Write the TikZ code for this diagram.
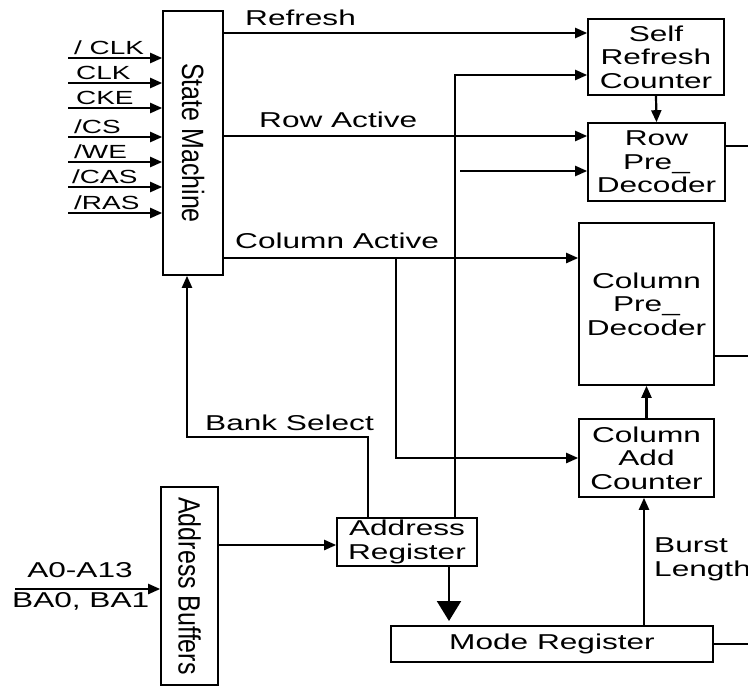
\documentclass[tikz,border=0pt]{standalone}
\usepackage{fontspec}
\setmainfont{Liberation Sans}
\newfontfamily\widefont[FakeStretch=1.47]{Liberation Sans}
\usetikzlibrary{arrows.meta}

\begin{document}
\begin{tikzpicture}[x=1pt,y=-1pt,
  box/.style={draw, line width=1.6pt, inner sep=0pt, align=center,
    font=\widefont\fontsize{21.5}{23.5}\selectfont},
  vbox/.style={draw, line width=1.6pt, inner sep=0pt,
    font=\fontsize{25}{26}\selectfont},
  wire/.style={line width=2.2pt},
  arr/.style={wire, -{Triangle[length=12pt,width=10pt]}},
  bigarr/.style={wire, -{Triangle[length=20pt,width=24pt]}},
  lbl/.style={font=\widefont\fontsize{21.5}{23.5}\selectfont, inner sep=0pt},
  pinlbl/.style={font=\widefont\fontsize{19}{20}\selectfont, inner sep=0pt, anchor=base west},
]
\useasboundingbox (0,0) rectangle (748,686);

% blocks
\node[vbox, minimum width=60pt, minimum height=264pt] (sm) at (193,143)
  {\scalebox{1.23}[1]{\rotatebox{-90}{State Machine}}};
\node[vbox, minimum width=57pt, minimum height=198pt] (ab) at (189.5,586)
  {\scalebox{1.23}[1]{\rotatebox{-90}{Address Buffers}}};
\node[box, minimum width=136pt, minimum height=76pt] (src) at (656,57)
  {Self\\Refresh\\Counter};
\node[box, minimum width=137pt, minimum height=78pt] (rpd) at (656.5,162)
  {Row\\Pre\_\\Decoder};
\node[box, minimum width=135pt, minimum height=162pt] (cpd) at (646.5,304)
  {Column\\Pre\_\\Decoder};
\node[box, minimum width=135pt, minimum height=78pt] (cac) at (646.5,458)
  {Column\\Add\\Counter};
\node[box, minimum width=140pt, minimum height=48pt] (areg) at (407,542)
  {Address\\Register};
\node[box, minimum width=322pt, minimum height=36pt] (mreg) at (552,644)
  {Mode Register};

% control inputs of the state machine
\coordinate (in1) at (68,58);
\coordinate (in2) at (68,83);
\coordinate (in3) at (68,108);
\coordinate (in4) at (68,137);
\coordinate (in5) at (68,162);
\coordinate (in6) at (68,187);
\coordinate (in7) at (68,213);
\draw[arr] (in1) -- (sm.west |- in1);
\draw[arr] (in2) -- (sm.west |- in2);
\draw[arr] (in3) -- (sm.west |- in3);
\draw[arr] (in4) -- (sm.west |- in4);
\draw[arr] (in5) -- (sm.west |- in5);
\draw[arr] (in6) -- (sm.west |- in6);
\draw[arr] (in7) -- (sm.west |- in7);
\node[pinlbl] (p1) at (74,54) {/ CLK};
\node[pinlbl] (p2) at (76,79) {CLK};
\node[pinlbl] (p3) at (76,104) {CKE};
\node[pinlbl] (p4) at (74,133) {/CS};
\node[pinlbl] (p5) at (74,158) {/WE};
\node[pinlbl] (p6) at (72,183) {/CAS};
\node[pinlbl] (p7) at (74,209) {/RAS};

% state machine outputs
\coordinate (rf) at (0,33);
\coordinate (ra) at (0,136);
\coordinate (ca) at (0,258);
\draw[arr] (sm.east |- rf) -- (src.west |- rf);
\draw[arr] (sm.east |- ra) -- (rpd.west |- ra);
\draw[arr] (sm.east |- ca) -- (cpd.west |- ca);
\node[lbl, anchor=base west] (lrf) at (245,25) {Refresh};
\node[lbl, anchor=base west] (lra) at (259,127) {Row Active};
\node[lbl, anchor=base west] (lca) at (235,248) {Column Active};

% column active branch to the column address counter
\coordinate (cbr) at (396,258);
\draw[arr] (cbr) |- (cac.west);

% address bus from the address register
\coordinate (bustop) at (455,75);
\coordinate (rowin) at (460,171);
\draw[arr] (areg.north -| bustop) -- (bustop) -- (src.west |- bustop);
\draw[arr] (rowin) -- (rpd.west |- rowin);

% bank select back to the state machine
\coordinate (bsx) at (368,0);
\coordinate (bs) at (187,437);
\draw[arr] (areg.north -| bsx) |- (bs) -- (bs |- sm.south);
\node[lbl, anchor=base west] (lbs) at (205,430) {Bank Select};

% address path
\coordinate (abo) at (0,545);
\draw[arr] (ab.east |- abo) -- (areg.west |- abo);
\coordinate (ain) at (15,589);
\draw[arr] (ain) -- (ab.west |- ain);
\node[lbl, anchor=base] (la) at (80,577) {A0-A13};
\node[lbl, anchor=base west] (lba) at (12,607) {BA0, BA1};

\coordinate (mx) at (449,621);
\draw[bigarr] (areg.south -| mx) -- (mx);

% counters and decoders
\draw[arr] (src.south) -- (rpd.north);
\draw[arr] (cac.north) -- (cpd.south);
\coordinate (blx) at (644,0);
\draw[arr] (mreg.north -| blx) -- (cac.south -| blx);
\node[lbl, anchor=north west, align=left] (lbl) at (654,538) {Burst\\Length};

% outputs leaving on the right
\coordinate (o1) at (748,146);
\coordinate (o2) at (748,356);
\coordinate (o3) at (748,644);
\draw[wire] (rpd.east |- o1) -- (o1);
\draw[wire] (cpd.east |- o2) -- (o2);
\draw[wire] (mreg.east) -- (o3);
\end{tikzpicture}
\end{document}
